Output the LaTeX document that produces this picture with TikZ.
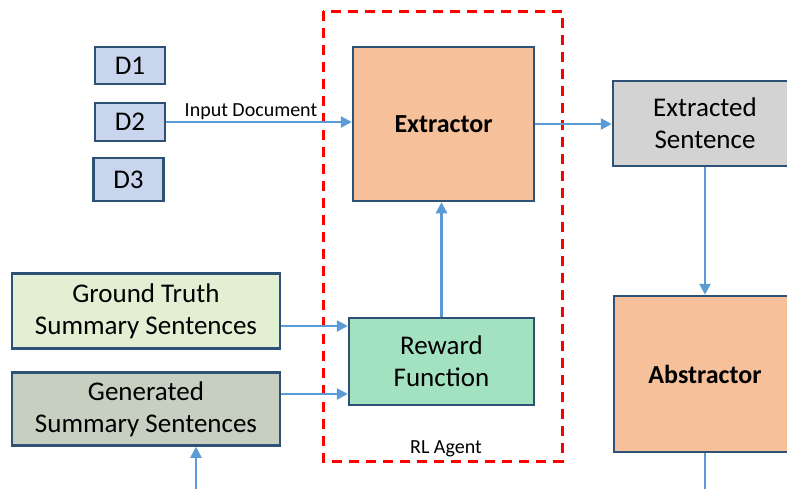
\documentclass[tikz,border=0pt]{standalone}
\usepackage{fontspec}
\setmainfont{Carlito}
\usetikzlibrary{arrows.meta}
\definecolor{boxline}{HTML}{2E5276}
\definecolor{arrowblue}{HTML}{5B9BD5}
\definecolor{docfill}{HTML}{C9D5EC}
\definecolor{netfill}{HTML}{F5C09A}
\definecolor{sentfill}{HTML}{D3D3D3}
\definecolor{truthfill}{HTML}{E2EFD2}
\definecolor{genfill}{HTML}{C7CFC0}
\definecolor{rewardfill}{HTML}{A3E2C0}
\begin{document}
\begin{tikzpicture}
[x=1pt, y=-1pt,
  boxdecorate/.style={shape=rectangle,draw=boxline,line width=2.5pt,inner sep=0pt,
    align=center,font=\fontsize{27}{32}\selectfont},
  arrowdecorate/.style={-{Triangle[length=11pt,width=11pt]},draw=arrowblue,line width=2.5pt},
  agentdecorate/.style={draw=red,line width=3pt,dash pattern=on 10pt off 7pt},
  smalltext/.style={inner sep=1pt,font=\fontsize{20}{24}\selectfont}]
\path[use as bounding box, clip] (0,0) rectangle (787,488);
%% the RL agent frame
\draw[agentdecorate] (323,11) rectangle (562,461);
\node (agentlabel) at (446,449) [smalltext] {RL Agent};
%% document boxes
\foreach \nodename/\x/\y/\h in {D1/130/65.5/37, D2/130/122/38, D3/128.5/179.5/43} {
  \node (\nodename) at (\x,\y) [boxdecorate,fill=docfill,minimum width=70pt,minimum height=\h pt] {\nodename};
}
%% other boxes
\node (extractor) at (443.5,124) [boxdecorate,fill=netfill,minimum width=181pt,minimum height=154pt,
  font=\fontsize{26}{31}\selectfont\bfseries] {Extractor};
\node (extracted) at (705,123.5) [boxdecorate,fill=sentfill,minimum width=184pt,minimum height=85pt] {Extracted\\Sentence};
\node (abstractor) at (705,374) [boxdecorate,fill=netfill,minimum width=182pt,minimum height=156pt,
  font=\fontsize{26}{31}\selectfont\bfseries] {Abstractor};
\node (groundtruth) at (146,311) [boxdecorate,fill=truthfill,minimum width=268pt,minimum height=75pt] {Ground Truth\\Summary Sentences};
\node (generated) at (146,409) [boxdecorate,fill=genfill,minimum width=268pt,minimum height=73pt] {Generated\\Summary Sentences};
\node (reward) at (441.5,361.5) [boxdecorate,fill=rewardfill,minimum width=185pt,minimum height=87pt] {Reward\\Function};
%% free ends below the picture
\coordinate (genin) at (196,492);
\coordinate (absout) at (706,492);
%% edges or lines
\draw[arrowdecorate] (D2.east) -- node[above,xshift=-8pt,smalltext] {Input Document} (D2.east -| extractor.west);
\draw[arrowdecorate] (extractor.east) -- (extractor.east -| extracted.west);
\draw[arrowdecorate] (extracted.south) -- (abstractor.north);
\draw[arrowdecorate] (reward.north) -- (reward.north |- extractor.south);
\draw[arrowdecorate] ([yshift=-15pt]groundtruth.east) -- ([yshift=35.5pt]reward.west);
\draw[arrowdecorate] ([yshift=15pt]generated.east) -- ([yshift=-32.5pt]reward.west);
\draw[arrowdecorate] (genin) -- (genin |- generated.south);
\draw[draw=arrowblue,line width=2.5pt] (abstractor.south) -- (abstractor.south |- absout);
\end{tikzpicture}
\end{document}
